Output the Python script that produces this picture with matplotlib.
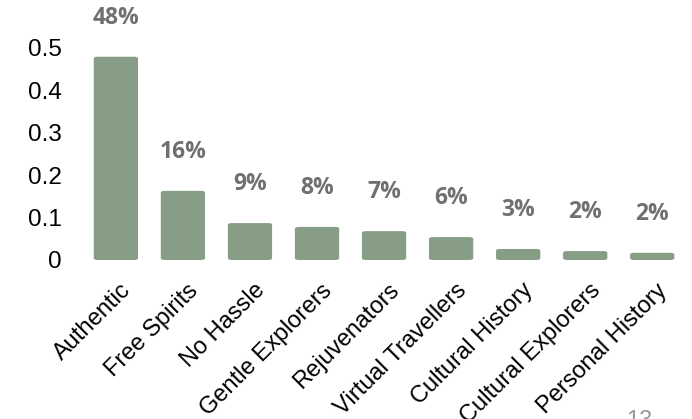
import numpy as np
import matplotlib.pyplot as plt
import matplotlib.transforms as mtransforms
from matplotlib.patches import FancyBboxPatch

categories = ['Authentic', 'Free Spirits', 'No Hassle', 'Gentle Explorers',
              'Rejuvenators', 'Virtual Travellers', 'Cultural History',
              'Cultural Explorers', 'Personal History']
shares = [0.479, 0.163, 0.087, 0.078, 0.068, 0.054, 0.026, 0.021, 0.017]
labels = ['48%', '16%', '9%', '8%', '7%', '6%', '3%', '2%', '2%']

fig = plt.figure(figsize=(6.92, 4.19), dpi=100)
ax = fig.add_axes([0.119, 0.3795, 0.872, 0.557])

x = np.arange(len(categories))
bars = ax.bar(x, shares, width=0.66, color='#889d86')

# slightly rounded bar tops like the original slide
for b in bars:
    b.set_visible(False)
    p = FancyBboxPatch((b.get_x(), 0), b.get_width(), b.get_height(),
                       boxstyle='round,pad=0,rounding_size=0.06',
                       mutation_aspect=0.55 / 9 * 0.872 / 0.557 * 6.92 / 4.19 * 0.45,
                       color='#889d86', lw=0)
    ax.add_patch(p)

for xi, v, lab in zip(x, shares, labels):
    ax.annotate(lab, (xi, v), xytext=(0, 28), textcoords='offset points',
                ha='center', va='center', fontsize=16.5, fontweight='bold',
                color='#707070', family='Open Sans', annotation_clip=False)

ax.set_xlim(-0.5, len(categories) - 0.5)
ax.set_ylim(0, 0.55)
ax.set_yticks([0, 0.1, 0.2, 0.3, 0.4, 0.5])
ax.set_yticklabels(['0', '0.1', '0.2', '0.3', '0.4', '0.5'])
ax.set_xticks(x)
ax.set_xticklabels(categories, rotation=45, ha='right', rotation_mode='anchor')

for s in ax.spines.values():
    s.set_visible(False)
ax.tick_params(length=0)
ax.tick_params(axis='y', labelsize=17.5, pad=15)
ax.tick_params(axis='x', labelsize=17, pad=14)
shift = mtransforms.ScaledTranslation(4 / 100, 0, fig.dpi_scale_trans)
for t in ax.get_xticklabels():
    t.set_family('Liberation Sans')
    t.set_transform(t.get_transform() + shift)
for t in ax.get_yticklabels():
    t.set_family('Liberation Sans')

fig.text(0.905, -0.02, '13', fontsize=17, color='#9a9a9a', family='Liberation Sans')

fig.savefig('out.png', dpi=100)
